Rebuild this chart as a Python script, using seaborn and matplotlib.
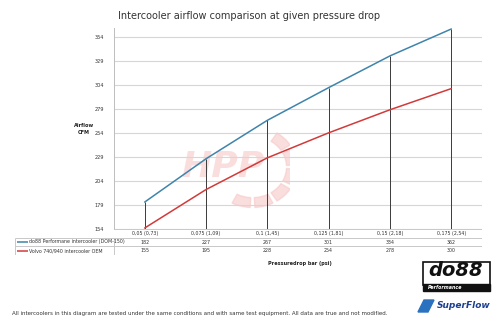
import matplotlib
matplotlib.use("Agg")
import matplotlib.pyplot as plt
import seaborn as sns
import pandas as pd
import numpy as np
from matplotlib.patches import Rectangle, Wedge, Polygon

# ---- data ----
categories = ["0,05 (0,73)", "0,075 (1,09)", "0,1 (1,45)", "0,125 (1,81)", "0,15 (2,18)", "0,175 (2,54)"]
do88_values = [182, 227, 267, 301, 334, 362]
volvo_values = [155, 195, 228, 254, 278, 300]
series_names = ["do88 Performane intercooler (DOM-150)", "Volvo 740/940 intercooler OEM"]
y_ticks = [154, 179, 204, 229, 254, 279, 304, 329, 354]
title = "Intercooler airflow comparison at given pressure drop"
x_title = "Pressuredrop bar (psi)"
y_title = "Airflow\nCFM"
footer = ("All intercoolers in this diagram are tested under the same conditions and with same "
          "test equipment. All data are true and not modified.")

blue = "#3f84aa"
red = "#d23a3a"
colors = [blue, red]

sns.set_theme(style="white")
plt.rcParams['font.family'] = ['DejaVu Sans']

fig = plt.figure(figsize=(5.0, 3.22), dpi=100)
W, H = 500, 322

def fx(px):
    return px / W

def fy(py):
    return 1 - py / H

# ---- faint HPP watermark (behind everything) ----
wm = fig.add_axes([fx(190), fy(212), fx(100), 90 / H], zorder=0)
wm.set_xlim(-1, 1)
wm.set_ylim(-1, 1)
wm.axis("off")
wm.text(-0.35, 0.0, "HPP", ha="center", va="center", fontsize=26, fontstyle="italic",
        fontweight="bold", color="#f6c4c4", alpha=0.55)
for a0 in range(-120, 60, 30):
    wm.add_patch(Wedge((0.25, 0), 0.9, a0 + 3, a0 + 27, width=0.22, color="#f6c4c4", alpha=0.55))

ax_l, ax_r, ax_t, ax_b = 114, 482, 28, 229
ax = fig.add_axes([fx(ax_l), fy(ax_b), fx(ax_r - ax_l), (ax_b - ax_t) / H], zorder=1)
ax.patch.set_alpha(0)

idx = np.arange(len(categories))
df = pd.DataFrame({
    "x": np.concatenate([idx, idx]),
    "y": do88_values + volvo_values,
    "series": [series_names[0]] * len(idx) + [series_names[1]] * len(idx),
})
sns.lineplot(data=df, x="x", y="y", hue="series", palette=colors, ax=ax,
             legend=False, linewidth=1.1, zorder=3)

# drop lines from the higher series down to the axis bottom
ymin = y_ticks[0]
ax.vlines(idx, ymin, do88_values, colors="#3a3a3a", linewidth=0.7, zorder=2)

ax.set_xlim(-0.5, len(categories) - 0.5)
ax.set_ylim(ymin, 363)
ax.set_yticks(y_ticks)
ax.set_yticklabels([str(v) for v in y_ticks], fontsize=3.6, color="#333333")
ax.set_xticks([])
ax.set_xlabel("")
ax.set_ylabel("")
ax.tick_params(axis="y", length=0, pad=7)
ax.yaxis.grid(True, color="#d6d6d6", linewidth=0.8)
for s in ["top", "right", "bottom"]:
    ax.spines[s].set_visible(False)
ax.spines["left"].set_color("#bdbdbd")
ax.spines["left"].set_linewidth(0.7)

# ---- data table below the plot ----
tab_l, tab_r, tab_t, tab_b = 15, 482, 229, 255
tab = fig.add_axes([fx(tab_l), fy(tab_b), fx(tab_r - tab_l), (tab_b - tab_t) / H], zorder=2)
cell = (ax_r - ax_l) / len(categories)
left_x = -0.5 - (ax_l - tab_l) / cell
tab.set_xlim(left_x, len(categories) - 0.5)
tab.set_ylim(3, 0)
tab.axis("off")
gc = "#c8c8c8"
tab.hlines([0], -0.5, len(categories) - 0.5, colors=gc, linewidth=0.7)
tab.hlines([1, 2, 3], left_x, len(categories) - 0.5, colors=gc, linewidth=0.7)
tab.vlines([left_x], 1, 3, colors=gc, linewidth=0.7)
tab.vlines([-0.5], 1, 3, colors=gc, linewidth=0.7)
tab.vlines([len(categories) - 0.5], 0, 3, colors=gc, linewidth=0.7)
for i, c in enumerate(categories):
    tab.text(i, 0.5, c, ha="center", va="center", fontsize=3.4, color="#333333")
    tab.text(i, 1.5, str(do88_values[i]), ha="center", va="center", fontsize=3.4, color="#333333")
    tab.text(i, 2.5, str(volvo_values[i]), ha="center", va="center", fontsize=3.4, color="#333333")
key_w = 11 / cell
clip_rect = Rectangle((left_x, 0), (-0.5 - left_x) - 0.02, 3, transform=tab.transData,
                      facecolor="none", edgecolor="none")
tab.add_patch(clip_rect)
for r, (name, col) in enumerate(zip(series_names, colors)):
    yy = 1.5 + r
    tab.plot([left_x + 0.03, left_x + 0.03 + key_w], [yy, yy], color=col, linewidth=1.1,
             solid_capstyle="butt")
    t = tab.text(left_x + 0.05 + key_w, yy, name, ha="left", va="center", fontsize=3.4,
                 color="#333333")
    t.set_clip_path(clip_rect)

# ---- texts ----
fig.text(fx(118), fy(16), title, ha="left", va="center", fontsize=7, color="#333333")
fig.text(fx(84), fy(129), y_title, ha="center", va="center", fontsize=3.6,
         fontweight="bold", color="#222222", linespacing=1.4)
fig.text(fx(300), fy(263), x_title, ha="center", va="center", fontsize=3.6,
         fontweight="bold", color="#222222")
fig.text(fx(12), fy(313), footer, ha="left", va="center", fontsize=3.95, color="#333333")

# ---- logos (approximate) ----
fig.patches.append(Rectangle((fx(423), fy(285)), fx(67), 23 / H, transform=fig.transFigure,
                             facecolor="white", edgecolor="#111111", linewidth=1.2))
fig.text(fx(456), fy(271), "do88", ha="center", va="center", fontsize=14,
         fontweight="bold", fontstyle="italic", color="#111111")
fig.patches.append(Rectangle((fx(423), fy(291)), fx(67), 7 / H, transform=fig.transFigure,
                             color="#111111"))
fig.text(fx(428), fy(287.5), "Performance", ha="left", va="center", fontsize=3.4,
         fontweight="bold", fontstyle="italic", color="white")
fig.patches.append(Polygon([(fx(418), fy(312)), (fx(424), fy(300)), (fx(434), fy(300)),
                            (fx(428), fy(312))], closed=True, transform=fig.transFigure,
                           color="#2a72c0"))
fig.text(fx(437), fy(306), "SuperFlow", ha="left", va="center", fontsize=6.5,
         fontweight="bold", fontstyle="italic", color="#1c3f8f")

fig.savefig("out.png", dpi=100, facecolor="white")
